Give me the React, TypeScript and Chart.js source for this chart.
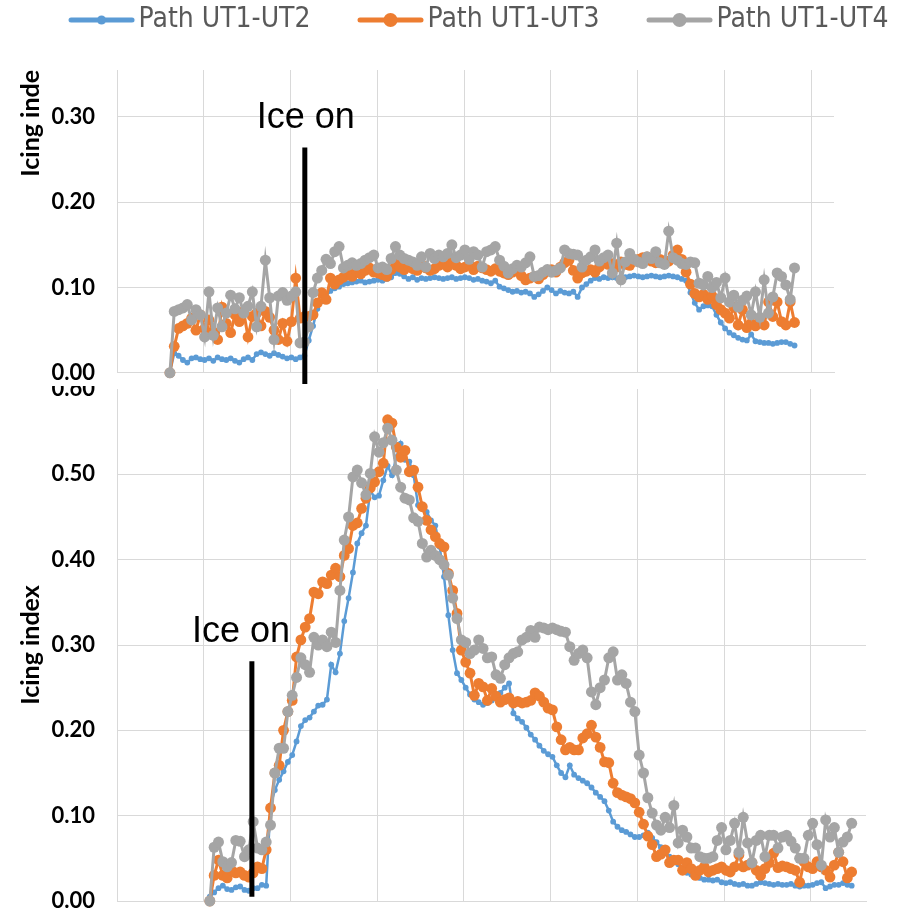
import React, { useEffect, useRef } from 'react';
import { Chart, registerables } from 'chart.js';

Chart.register(...registerables);

// ---------- names / colours ----------
const SERIES_NAMES = ['Path UT1-UT2', 'Path UT1-UT3', 'Path UT1-UT4'];
const SERIES_COLORS = ['#5B9BD5', '#ED7D31', '#A5A5A5'];

// ---------- axes ----------
const X_TICKS = [0, 20, 40, 60, 80, 100, 120, 140, 160];
const TOP_Y_TICKS = [0, 0.1, 0.2, 0.3];
const BOTTOM_Y_TICKS = [0, 0.1, 0.2, 0.3, 0.4, 0.5, 0.6];
const TOP_X_MAX = 165.3;
const BOTTOM_X_MAX = 172.7;
const TOP_Y_MAX = 0.355;
const BOTTOM_Y_MAX = 0.6;
const TOP_X_START = 12.2;
const BOTTOM_X_START = 21.4;

// ---------- annotations (data units) ----------
const TOP_ICE_ON = { x: 43.3, yFrom: 0.264, yTo: -0.013, labelX: 43.5, labelY: 0.287 };
const BOTTOM_ICE_ON = { x: 31.1, yFrom: 0.281, yTo: 0.005, labelX: 28.6, labelY: 0.303 };
const TOP_TITLE_CENTER = 0.3;

// ---------- top chart series ----------
const TOP_BLUE = [
  0.000, 0.023, 0.020, 0.015, 0.012, 0.017, 0.018, 0.016, 0.015, 0.017,
  0.014, 0.018, 0.016, 0.015, 0.017, 0.014, 0.012, 0.016, 0.018, 0.015,
  0.022, 0.024, 0.022, 0.020, 0.023, 0.021, 0.019, 0.017, 0.018, 0.016,
  0.018, 0.020, 0.038, 0.055, 0.075, 0.084, 0.090, 0.096, 0.099, 0.101,
  0.104, 0.105, 0.106, 0.107, 0.108, 0.106, 0.107, 0.108, 0.109, 0.108,
  0.110, 0.112, 0.117, 0.116, 0.113, 0.110, 0.112, 0.109, 0.111, 0.110,
  0.111, 0.112, 0.111, 0.110, 0.111, 0.112, 0.110, 0.111, 0.112, 0.111,
  0.109, 0.110, 0.108, 0.107, 0.105, 0.108, 0.101, 0.099, 0.097, 0.095,
  0.096, 0.094, 0.095, 0.093, 0.089, 0.092, 0.096, 0.100, 0.097, 0.093,
  0.096, 0.094, 0.093, 0.095, 0.089, 0.100, 0.104, 0.108, 0.111, 0.110,
  0.112, 0.111, 0.112, 0.111, 0.113, 0.112, 0.113, 0.114, 0.113, 0.112,
  0.113, 0.114, 0.113, 0.112, 0.113, 0.114, 0.113, 0.112, 0.110, 0.108,
  0.094, 0.082, 0.074, 0.078, 0.079, 0.078, 0.068, 0.059, 0.052, 0.047,
  0.044, 0.041, 0.039, 0.038, 0.045, 0.037, 0.036, 0.035, 0.035, 0.034,
  0.035, 0.036, 0.036, 0.034, 0.032,
];
const TOP_ORANGE = [
  0.000, 0.031, 0.052, 0.055, 0.058, 0.064, 0.050, 0.068, 0.052, 0.062,
  0.048, 0.039, 0.077, 0.058, 0.047, 0.068, 0.060, 0.072, 0.042, 0.066,
  0.070, 0.055, 0.072, 0.065, 0.050, 0.039, 0.058, 0.037, 0.060, 0.111,
  0.064, 0.066, 0.066, 0.068, 0.082, 0.094, 0.086, 0.111, 0.104, 0.109,
  0.112, 0.117, 0.113, 0.119, 0.116, 0.120, 0.123, 0.118, 0.117, 0.115,
  0.113, 0.121, 0.129, 0.124, 0.121, 0.125, 0.122, 0.120, 0.127, 0.123,
  0.120, 0.122, 0.126, 0.128, 0.124, 0.130, 0.126, 0.122, 0.124, 0.127,
  0.121, 0.125, 0.123, 0.121, 0.119, 0.122, 0.119, 0.117, 0.115, 0.118,
  0.120, 0.114, 0.109, 0.111, 0.113, 0.110, 0.115, 0.119, 0.121, 0.118,
  0.124, 0.129, 0.132, 0.120, 0.111, 0.117, 0.119, 0.121, 0.118, 0.124,
  0.130, 0.127, 0.128, 0.124, 0.130, 0.127, 0.126, 0.131, 0.133, 0.135,
  0.136, 0.131, 0.129, 0.133, 0.128, 0.131, 0.138, 0.144, 0.133, 0.118,
  0.104, 0.093, 0.089, 0.092, 0.086, 0.090, 0.080, 0.074, 0.070, 0.064,
  0.077, 0.056, 0.074, 0.053, 0.058, 0.055, 0.060, 0.056, 0.083, 0.066,
  0.083, 0.060, 0.056, 0.083, 0.059,
];
const TOP_GRAY = [
  0.000, 0.072, 0.074, 0.076, 0.080, 0.062, 0.074, 0.068, 0.042, 0.095,
  0.044, 0.076, 0.054, 0.070, 0.091, 0.075, 0.088, 0.070, 0.078, 0.095,
  0.054, 0.078, 0.132, 0.088, 0.039, 0.090, 0.094, 0.085, 0.090, 0.095,
  0.035, 0.036, 0.054, 0.094, 0.111, 0.120, 0.133, 0.128, 0.142, 0.148,
  0.123, 0.126, 0.129, 0.126, 0.128, 0.132, 0.135, 0.138, 0.123, 0.124,
  0.121, 0.134, 0.148, 0.138, 0.134, 0.132, 0.130, 0.126, 0.136, 0.124,
  0.140, 0.134, 0.138, 0.136, 0.140, 0.150, 0.135, 0.138, 0.144, 0.133,
  0.142, 0.138, 0.124, 0.142, 0.144, 0.148, 0.132, 0.125, 0.117, 0.122,
  0.126, 0.124, 0.129, 0.136, 0.113, 0.114, 0.118, 0.121, 0.118, 0.120,
  0.123, 0.144, 0.140, 0.139, 0.138, 0.124, 0.132, 0.136, 0.144, 0.131,
  0.135, 0.138, 0.117, 0.152, 0.109, 0.130, 0.140, 0.133, 0.130, 0.128,
  0.136, 0.134, 0.142, 0.129, 0.127, 0.166, 0.135, 0.132, 0.128, 0.127,
  0.130, 0.129, 0.105, 0.103, 0.113, 0.100, 0.106, 0.088, 0.111, 0.083,
  0.091, 0.077, 0.085, 0.090, 0.068, 0.095, 0.065, 0.109, 0.070, 0.089,
  0.117, 0.113, 0.103, 0.086, 0.123,
];

// ---------- bottom chart series ----------
const BOTTOM_BLUE = [
  0.005, 0.010, 0.015, 0.018, 0.014, 0.013, 0.016, 0.017, 0.013, 0.012,
  0.015, 0.015, 0.019, 0.018, 0.112, 0.130, 0.142, 0.152, 0.163, 0.171,
  0.187, 0.205, 0.212, 0.215, 0.222, 0.229, 0.230, 0.236, 0.277, 0.268,
  0.290, 0.328, 0.355, 0.385, 0.419, 0.431, 0.440, 0.481, 0.473, 0.475,
  0.493, 0.510, 0.499, 0.520, 0.536, 0.517, 0.515, 0.499, 0.464, 0.460,
  0.456, 0.446, 0.440, 0.415, 0.380, 0.335, 0.294, 0.267, 0.259, 0.250,
  0.242, 0.236, 0.233, 0.230, 0.232, 0.235, 0.238, 0.244, 0.250, 0.255,
  0.220, 0.214, 0.210, 0.203, 0.195, 0.189, 0.182, 0.176, 0.172, 0.169,
  0.159, 0.150, 0.145, 0.159, 0.148, 0.144, 0.141, 0.138, 0.133, 0.127,
  0.122, 0.117, 0.106, 0.093, 0.087, 0.083, 0.081, 0.078, 0.075, 0.075,
  0.077, 0.080, 0.074, 0.069, 0.063, 0.056, 0.052, 0.047, 0.043, 0.038,
  0.033, 0.031, 0.029, 0.027, 0.025, 0.025, 0.024, 0.025, 0.022, 0.021,
  0.022, 0.020, 0.019, 0.020, 0.018, 0.018, 0.020, 0.022, 0.021, 0.020,
  0.019, 0.020, 0.019, 0.019, 0.020, 0.018, 0.017, 0.018, 0.018, 0.019,
  0.021, 0.022, 0.015, 0.017, 0.019, 0.019, 0.021, 0.019, 0.018,
];
const BOTTOM_ORANGE = [
  0.000, 0.030, 0.048, 0.030, 0.027, 0.036, 0.033, 0.034, 0.030, 0.028,
  0.033, 0.040, 0.038, 0.060, 0.109, 0.150, 0.159, 0.200, 0.222, 0.235,
  0.286, 0.306, 0.321, 0.331, 0.362, 0.360, 0.374, 0.372, 0.382, 0.390,
  0.380, 0.405, 0.413, 0.440, 0.443, 0.460, 0.472, 0.484, 0.491, 0.503,
  0.513, 0.564, 0.560, 0.532, 0.520, 0.528, 0.503, 0.505, 0.485, 0.462,
  0.446, 0.435, 0.427, 0.419, 0.415, 0.384, 0.364, 0.337, 0.294, 0.280,
  0.267, 0.241, 0.255, 0.251, 0.235, 0.249, 0.240, 0.233, 0.236, 0.238,
  0.232, 0.234, 0.232, 0.233, 0.235, 0.244, 0.240, 0.233, 0.226, 0.224,
  0.204, 0.189, 0.177, 0.180, 0.177, 0.177, 0.191, 0.196, 0.206, 0.192,
  0.180, 0.163, 0.162, 0.138, 0.127, 0.124, 0.122, 0.120, 0.115, 0.104,
  0.090, 0.076, 0.066, 0.052, 0.055, 0.060, 0.045, 0.048, 0.048, 0.036,
  0.045, 0.038, 0.030, 0.036, 0.040, 0.034, 0.036, 0.038, 0.040, 0.036,
  0.034, 0.040, 0.054, 0.040, 0.042, 0.045, 0.036, 0.030, 0.038, 0.045,
  0.056, 0.039, 0.041, 0.040, 0.038, 0.036, 0.022, 0.046, 0.040, 0.038,
  0.046, 0.040, 0.036, 0.028, 0.042, 0.057, 0.046, 0.027, 0.034,
];
const BOTTOM_GRAY = [
  0.000, 0.063, 0.069, 0.046, 0.040, 0.045, 0.071, 0.070, 0.052, 0.060,
  0.093, 0.062, 0.060, 0.069, 0.089, 0.150, 0.179, 0.179, 0.222, 0.241,
  0.262, 0.285, 0.277, 0.268, 0.309, 0.300, 0.306, 0.298, 0.315, 0.303,
  0.364, 0.423, 0.450, 0.497, 0.505, 0.490, 0.476, 0.501, 0.544, 0.526,
  0.537, 0.554, 0.540, 0.505, 0.485, 0.472, 0.470, 0.449, 0.445, 0.419,
  0.403, 0.411, 0.405, 0.400, 0.394, 0.382, 0.355, 0.331, 0.306, 0.303,
  0.290, 0.294, 0.306, 0.296, 0.285, 0.286, 0.265, 0.261, 0.277, 0.285,
  0.290, 0.292, 0.306, 0.309, 0.317, 0.309, 0.321, 0.320, 0.318, 0.320,
  0.318, 0.316, 0.315, 0.298, 0.282, 0.290, 0.294, 0.285, 0.245, 0.230,
  0.250, 0.259, 0.285, 0.292, 0.259, 0.265, 0.255, 0.233, 0.222, 0.171,
  0.150, 0.121, 0.103, 0.089, 0.083, 0.098, 0.086, 0.112, 0.068, 0.083,
  0.075, 0.062, 0.062, 0.052, 0.050, 0.050, 0.052, 0.071, 0.086, 0.060,
  0.071, 0.091, 0.057, 0.098, 0.068, 0.045, 0.071, 0.077, 0.052, 0.077,
  0.077, 0.062, 0.075, 0.077, 0.070, 0.062, 0.050, 0.050, 0.077, 0.091,
  0.066, 0.042, 0.095, 0.075, 0.086, 0.057, 0.069, 0.075, 0.091,
];

// ---------- styles ----------
const LINE_WIDTHS = [2.5, 3, 3];
const POINT_RADII = [2.9, 5.4, 5.5];
const LEGEND_RADII = [4.5, 7, 7];
const GRID_COLOR = '#D9D9D9';
const TICK_FONT = { family: 'Lato, "Liberation Sans", sans-serif', weight: 'bold' as const, size: 22 };
const TITLE_FONT_CSS = 'bold 25px Lato, "Liberation Sans", sans-serif';
const LEGEND_FONT_FAMILY = '"DejaVu Sans Condensed", "Liberation Sans Narrow", sans-serif';
const LEGEND_FONT_SIZE = 28;
const LEGEND_BOX_WIDTH = 103;

function toPoints(values: number[], start: number) {
  return values.map((v, i) => ({ x: start + i, y: v }));
}

function makeDatasets(series: number[][], start: number) {
  return series.map((vals, k) => ({
    label: SERIES_NAMES[k],
    data: toPoints(vals, start),
    borderColor: SERIES_COLORS[k],
    backgroundColor: SERIES_COLORS[k],
    borderWidth: LINE_WIDTHS[k],
    pointRadius: POINT_RADII[k],
    pointBorderWidth: 0,
    pointBackgroundColor: SERIES_COLORS[k],
    tension: 0,
    clip: false as const,
    order: 3 - k,
  }));
}

// legend swatch: a short line with a marker, drawn into an image used as the legend point style
function legendSwatch(color: string, radius: number) {
  const c = document.createElement('canvas');
  c.width = 130;
  c.height = 18;
  const g = c.getContext('2d')!;
  g.strokeStyle = color;
  g.lineWidth = 5;
  g.lineCap = 'round';
  g.beginPath();
  g.moveTo(63, 9);
  g.lineTo(124, 9);
  g.stroke();
  g.fillStyle = color;
  g.beginPath();
  g.arc(93.5, 9, radius, 0, Math.PI * 2);
  g.fill();
  return c;
}

function iceOnPlugin(cfg: typeof TOP_ICE_ON) {
  return {
    id: 'iceOn',
    afterDatasetsDraw(chart: any) {
      const { ctx, scales } = chart;
      const x = scales.x;
      const y = scales.y;
      ctx.save();
      ctx.strokeStyle = '#000';
      ctx.lineWidth = 5;
      ctx.beginPath();
      const px = x.getPixelForValue(cfg.x);
      ctx.moveTo(px, y.getPixelForValue(cfg.yFrom));
      ctx.lineTo(px, y.getPixelForValue(cfg.yTo));
      ctx.stroke();
      ctx.font = '36px "Liberation Sans", Arial, sans-serif';
      ctx.fillStyle = '#000';
      ctx.textAlign = 'center';
      ctx.textBaseline = 'alphabetic';
      ctx.fillText('Ice on', x.getPixelForValue(cfg.labelX), y.getPixelForValue(cfg.labelY));
      ctx.restore();
    },
  };
}

const clippedTitlePlugin = {
  id: 'clippedTitle',
  afterDraw(chart: any) {
    const { ctx, chartArea, scales } = chart;
    ctx.save();
    ctx.beginPath();
    ctx.rect(0, chartArea.top, chartArea.left, chart.height - chartArea.top);
    ctx.clip();
    ctx.translate(31, scales.y.getPixelForValue(TOP_TITLE_CENTER));
    ctx.rotate(-Math.PI / 2);
    ctx.font = TITLE_FONT_CSS;
    ctx.fillStyle = '#000';
    ctx.textAlign = 'center';
    ctx.textBaseline = 'middle';
    ctx.fillText('Icing index', 0, 0);
    ctx.restore();
  },
};

function setTicks(values: number[]) {
  return (scale: any) => {
    scale.ticks = values.map((v) => ({ value: v }));
  };
}

export default function App() {
  const topRef = useRef<HTMLCanvasElement>(null);
  const bottomRef = useRef<HTMLCanvasElement>(null);

  useEffect(() => {
    const swatches = SERIES_COLORS.map((c, k) => legendSwatch(c, LEGEND_RADII[k]));

    const top = new Chart(topRef.current!, {
      type: 'line',
      data: { datasets: makeDatasets([TOP_BLUE, TOP_ORANGE, TOP_GRAY], TOP_X_START) as any },
      options: {
        responsive: false,
        animation: false,
        events: [],
        layout: { padding: { left: 11, right: 0, top: 6, bottom: 13 } },
        plugins: {
          legend: {
            display: true,
            position: 'top',
            labels: {
              usePointStyle: true,
              pointStyleWidth: LEGEND_BOX_WIDTH,
              padding: 0,
              color: '#595959',
              font: { family: LEGEND_FONT_FAMILY, size: LEGEND_FONT_SIZE },
              generateLabels: () =>
                SERIES_NAMES.map((name, k) => ({
                  text: name,
                  fillStyle: SERIES_COLORS[k],
                  strokeStyle: SERIES_COLORS[k],
                  lineWidth: 0,
                  pointStyle: swatches[k] as any,
                  hidden: false,
                  datasetIndex: k,
                  fontColor: '#595959',
                })),
            },
          },
          title: {
            display: true,
            text: '',
            weight: 500,
            padding: { top: 16, bottom: 0 },
            font: { size: 10, lineHeight: 1 },
          } as any,
          tooltip: { enabled: false },
        },
        scales: {
          x: {
            type: 'linear',
            min: 0,
            max: TOP_X_MAX,
            afterBuildTicks: setTicks(X_TICKS),
            ticks: { display: false },
            grid: { color: GRID_COLOR, drawTicks: false },
            border: { color: GRID_COLOR },
          },
          y: {
            type: 'linear',
            min: 0,
            max: TOP_Y_MAX,
            afterBuildTicks: setTicks(TOP_Y_TICKS),
            afterFit: (s: any) => {
              s.width = 106;
            },
            ticks: {
              callback: (v: any) => Number(v).toFixed(2),
              font: TICK_FONT,
              color: '#000',
              padding: 0,
            },
            grid: { color: GRID_COLOR, drawTicks: true, tickLength: 22, tickColor: 'rgba(0,0,0,0)' },
            border: { color: GRID_COLOR },
          },
          yRight: {
            type: 'linear',
            position: 'right',
            afterFit: (s: any) => {
              s.width = 65;
            },
            ticks: { display: false },
            grid: { display: false, drawOnChartArea: false, drawTicks: false },
            border: { display: false },
          },
        },
      },
      plugins: [iceOnPlugin(TOP_ICE_ON), clippedTitlePlugin],
    });

    const bottom = new Chart(bottomRef.current!, {
      type: 'line',
      data: { datasets: makeDatasets([BOTTOM_BLUE, BOTTOM_ORANGE, BOTTOM_GRAY], BOTTOM_X_START) as any },
      options: {
        responsive: false,
        animation: false,
        events: [],
        layout: { padding: { left: 0, right: 33, top: 19, bottom: 19 } },
        plugins: {
          legend: { display: false },
          title: { display: false },
          tooltip: { enabled: false },
        },
        scales: {
          x: {
            type: 'linear',
            min: 0,
            max: BOTTOM_X_MAX,
            afterBuildTicks: setTicks(X_TICKS),
            ticks: { display: false },
            grid: { color: GRID_COLOR, drawTicks: false },
            border: { color: GRID_COLOR },
          },
          y: {
            type: 'linear',
            min: 0,
            max: BOTTOM_Y_MAX,
            afterBuildTicks: setTicks(BOTTOM_Y_TICKS),
            afterFit: (s: any) => {
              s.width = 117;
            },
            title: {
              display: true,
              text: 'Icing index',
              color: '#000',
              font: { family: 'Lato, "Liberation Sans", sans-serif', weight: 'bold', size: 25 },
              padding: { top: 16, bottom: 0 },
            },
            ticks: {
              callback: (v: any) => Number(v).toFixed(2),
              font: TICK_FONT,
              color: '#000',
              padding: 0,
            },
            grid: {
              color: (c: any) => (c.tick && c.tick.value > 0.59 ? 'rgba(0,0,0,0)' : GRID_COLOR),
              drawTicks: true,
              tickLength: 22,
              tickColor: 'rgba(0,0,0,0)',
            },
            border: { color: GRID_COLOR },
          },
        },
      },
      plugins: [iceOnPlugin(BOTTOM_ICE_ON)],
    });

    return () => {
      top.destroy();
      bottom.destroy();
    };
  }, []);

  return (
    <div
      style={{
        position: 'absolute',
        left: 0,
        top: 0,
        width: 899,
        height: 910,
        overflow: 'hidden',
        background: '#fff',
      }}
    >
      <canvas ref={bottomRef} width={899} height={550} style={{ position: 'absolute', left: 0, top: 370 }} />
      <canvas
        ref={topRef}
        width={899}
        height={386}
        style={{ position: 'absolute', left: 0, top: 0, background: '#fff', zIndex: 1 }}
      />
    </div>
  );
}
